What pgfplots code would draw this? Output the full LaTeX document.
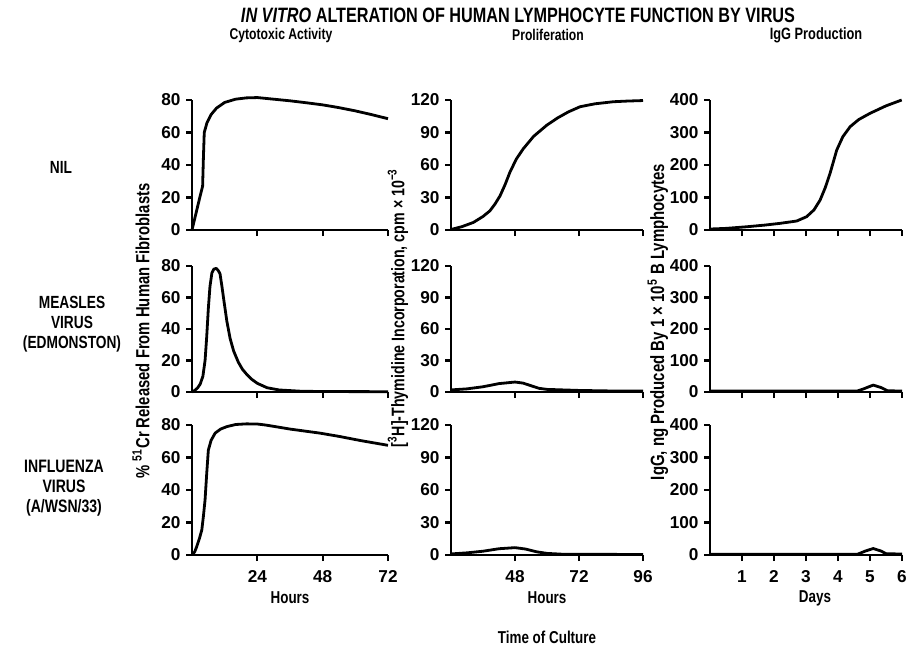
\documentclass[border=0pt]{standalone}
\usepackage{fontspec}
\setmainfont{Liberation Sans}[FakeStretch=0.78]
\newfontfamily\tickfont{Liberation Sans}
\usepackage{pgfplots}
\pgfplotsset{compat=1.18}

% 1 px of the reference = 0.5pt
\pgfplotsset{
  panel/.style={
    scale only axis,
    axis x line*=bottom, axis y line*=left,
    axis line style={-, line width=1.4pt},
    every outer x axis line/.append style={-},
    every outer y axis line/.append style={-},
    tick style={black, line width=1.1pt},
    tick align=outside, major tick length=3pt,
    ymin=0, clip=false,
    /pgf/number format/assume math mode=true,
    tick label style={font=\tickfont\bfseries\fontsize{8.6}{9}\selectfont},
    yticklabel style={xshift=0.8pt},
    xticklabel style={yshift=-1pt, text height=6.2pt, text depth=0pt},
  },
  cyto/.style={panel, width=98pt, xmin=0, xmax=72, xtick={24,48,72}, ymax=80, ytick={0,20,40,60,80}},
  prol/.style={panel, width=96pt, xmin=24, xmax=96, xtick={48,72,96}, ymax=120, ytick={0,30,60,90,120}},
  igg/.style={panel, width=96pt, xmin=0, xmax=6, xtick={1,2,3,4,5,6}, ymax=400, ytick={0,100,200,300,400}},
  curve/.style={black, line width=1.4pt, line join=round, no marks},
}

\begin{document}
\begin{tikzpicture}[font=\bfseries]
\path[use as bounding box] (0pt,0pt) rectangle (454pt,-324pt);

% ---------- row 1: NIL ----------
\begin{axis}[cyto, height=65pt, at={(96pt,-115pt)}, anchor=south west, xticklabels={}]
\addplot[curve] coordinates {(0,0) (1,7) (2,14) (3,21) (3.9,27) (4.2,45) (4.5,60) (5.5,66) (7,71) (9,75) (12,78.5) (16,80.5) (20,81.3) (24,81.5) (30,80.5) (36,79.5) (42,78.3) (48,77) (54,75.3) (60,73.3) (66,71) (72,68.5)};
\end{axis}
\begin{axis}[prol, height=65pt, at={(225.5pt,-115pt)}, anchor=south west, xticklabels={}]
\addplot[curve] coordinates {(24,0.5) (28,3) (32.4,7) (36,12.5) (38.6,17.7) (40.5,24) (42.4,31.6) (44.3,42) (46.1,53.4) (48.5,65.5) (51.1,75) (55,86.5) (59.9,96.7) (64,103.5) (68,109) (72.4,113.8) (78,116.5) (84.9,118.4) (90,119) (96,119.5)};
\end{axis}
\begin{axis}[igg, height=65pt, at={(355pt,-115pt)}, anchor=south west, xticklabels={}]
\addplot[curve] coordinates {(0,3) (0.5,5) (1.15,10) (1.7,15) (2.19,20.5) (2.71,27.7) (3.02,41) (3.25,62) (3.44,92) (3.6,130) (3.75,174) (3.87,215) (3.96,246) (4.15,287) (4.38,318) (4.65,340) (5,359) (5.5,382) (5.99,400)};
\end{axis}

% ---------- row 2: MEASLES ----------
\begin{axis}[cyto, height=63pt, at={(96pt,-196pt)}, anchor=south west, xticklabels={}]
\addplot[curve] coordinates {(0,0) (1,1) (2,2.5) (3,5) (4,10) (4.8,20) (5.4,35) (6,53) (6.6,67) (7.3,75.5) (8,78) (8.9,78.5) (9.7,77) (10.3,75) (11,67) (11.8,57) (12.8,45) (14,34) (15.3,26) (17,19) (18.5,14.5) (20.2,11) (22,8) (24,5.5) (27.6,2.7) (32,1.3) (40,0.5) (48,0.3) (72,0.2)};
\end{axis}
\begin{axis}[prol, height=63pt, at={(225.5pt,-196pt)}, anchor=south west, xticklabels={}]
\addplot[curve] coordinates {(24,2) (30,3) (36,5) (42,8) (48,9.5) (51,8.5) (54,6) (57,3.5) (60,2.5) (66,2) (72,1.5) (84,1) (96,1)};
\end{axis}
\begin{axis}[igg, height=63pt, at={(355pt,-196pt)}, anchor=south west, xticklabels={}]
\addplot[curve] coordinates {(0,3) (1,3) (2,3) (3,3) (4,3) (4.6,3) (4.8,10) (5.1,22) (5.35,14) (5.55,4) (6,3)};
\end{axis}

% ---------- row 3: INFLUENZA ----------
\begin{axis}[cyto, height=65pt, at={(96pt,-277.5pt)}, anchor=south west]
\addplot[curve] coordinates {(0,0) (1,2) (1.7,5) (2.7,10) (3.6,15.4) (4.2,24) (4.8,34) (5.4,50) (6,64.5) (7,70.5) (8.5,75) (10.5,77.5) (12.8,79) (16,80.3) (20,80.7) (24,80.6) (27,80) (36,77.5) (47,75) (54,73) (62,70.4) (72,67.5)};
\end{axis}
\begin{axis}[prol, height=65pt, at={(225.5pt,-277.5pt)}, anchor=south west]
\addplot[curve] coordinates {(24,1) (30,2) (36,3.5) (42,5.8) (48,6.8) (52,5.5) (56,3) (60,1.5) (66,0.7) (96,0.5)};
\end{axis}
\begin{axis}[igg, height=65pt, at={(355pt,-277.5pt)}, anchor=south west]
\addplot[curve] coordinates {(0,2) (1,2) (2,2) (3,2) (4,2) (4.6,2) (4.85,12) (5.1,20) (5.35,12) (5.5,4) (6,3)};
\end{axis}

% ---------- titles and labels ----------
\node[font=\bfseries\fontsize{10.4}{11}\selectfont] at (259pt,-7.5pt) {\textit{IN VITRO} ALTERATION OF HUMAN LYMPHOCYTE FUNCTION BY VIRUS};
\node[font=\bfseries\fontsize{7.8}{9}\selectfont] at (140.5pt,-17.5pt) {Cytotoxic Activity};
\node[font=\bfseries\fontsize{7.8}{9}\selectfont] at (274pt,-17.5pt) {Proliferation};
\node[font=\bfseries\fontsize{8.2}{9}\selectfont] at (408pt,-17.5pt) {IgG Production};

\node[font=\bfseries\fontsize{8.8}{10}\selectfont] at (30.5pt,-83.5pt) {NIL};
\node[font=\bfseries\fontsize{8.8}{10}\selectfont, align=center] at (36pt,-162pt) {MEASLES\\VIRUS\\(EDMONSTON)};
\node[font=\bfseries\fontsize{9}{10}\selectfont, align=center] at (32pt,-244pt) {INFLUENZA\\VIRUS\\(A/WSN/33)};

\node[rotate=90, font=\bfseries\fontsize{9.5}{10}\selectfont] at (70.5pt,-165.5pt) {\% \textsuperscript{51}Cr Released From Human Fibroblasts};
\node[rotate=90, font=\bfseries\fontsize{9.1}{10}\selectfont] at (199pt,-154pt) {[\textsuperscript{3}H]-Thymidine Incorporation, cpm × 10\textsuperscript{−3}};
\node[rotate=90, font=\bfseries\fontsize{9.6}{10}\selectfont] at (329pt,-161pt) {IgG, ng Produced By 1 × 10\textsuperscript{5} B Lymphocytes};

\node[font=\bfseries\fontsize{8.6}{10}\selectfont] at (145pt,-299pt) {Hours};
\node[font=\bfseries\fontsize{8.6}{10}\selectfont] at (273.5pt,-299pt) {Hours};
\node[font=\bfseries\fontsize{8.6}{10}\selectfont] at (407.5pt,-299pt) {Days};
\node[font=\bfseries\fontsize{8.6}{10}\selectfont] at (273.5pt,-318.5pt) {Time of Culture};
\end{tikzpicture}
\end{document}
